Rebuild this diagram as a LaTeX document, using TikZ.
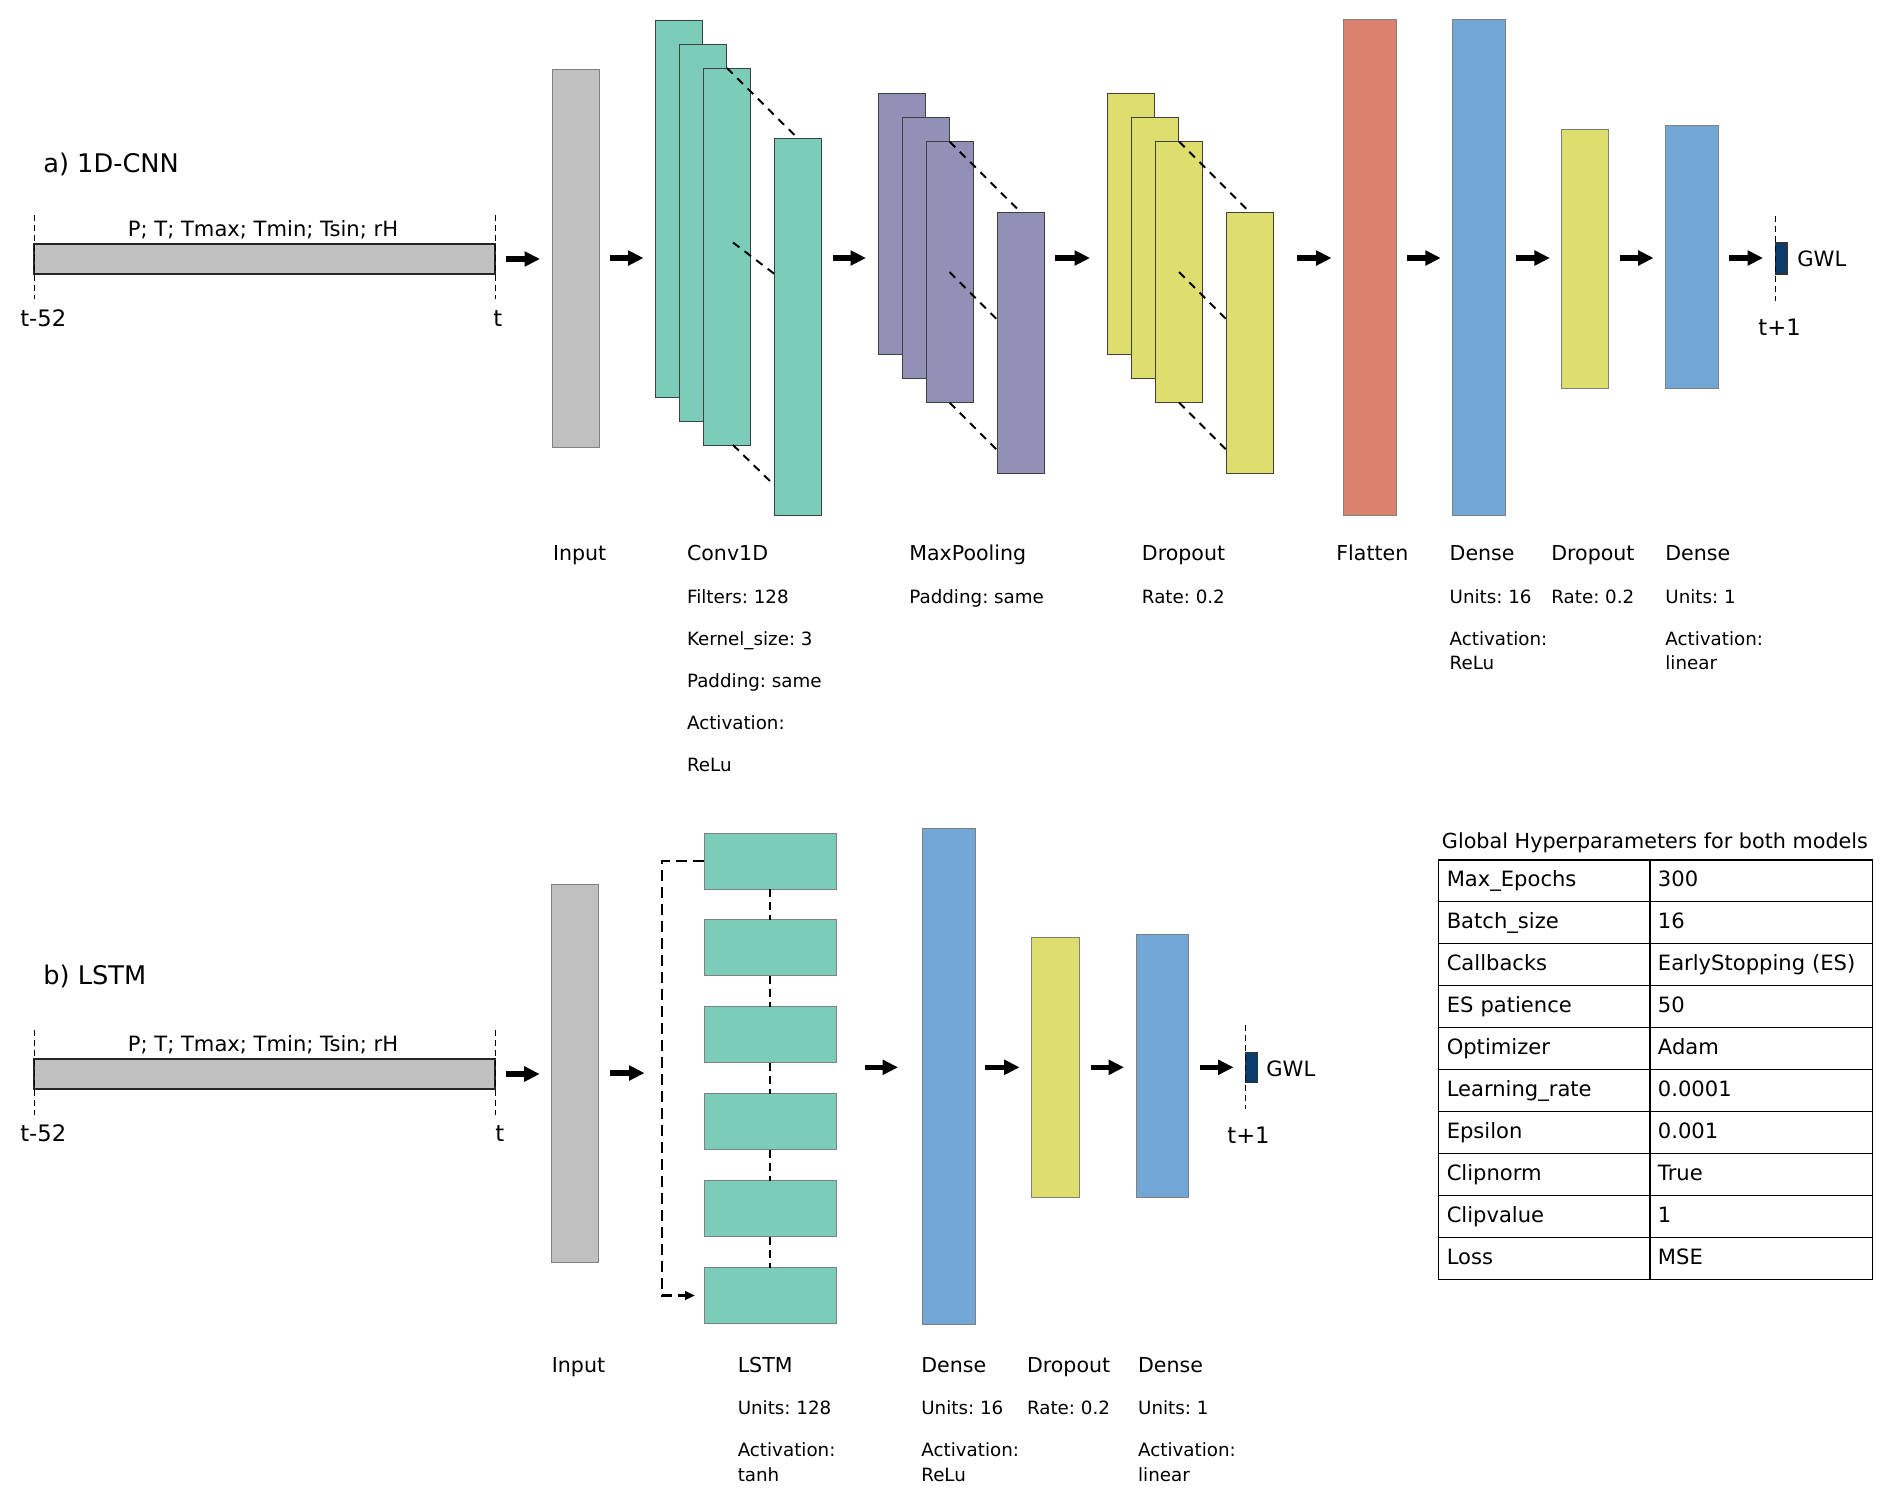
\documentclass[tikz,border=0pt]{standalone}
\usepackage{fontspec}
\setmainfont{DejaVu Sans}
\usepackage{tikz}
\usetikzlibrary{calc,arrows.meta}
\definecolor{inGray}{RGB}{192,192,192}
\definecolor{convTeal}{RGB}{123,205,186}
\definecolor{poolPurple}{RGB}{145,145,183}
\definecolor{dropYellow}{RGB}{222,222,110}
\definecolor{flatRed}{RGB}{218,130,110}
\definecolor{denseBlue}{RGB}{114,166,213}
\definecolor{outNavy}{RGB}{10,60,110}
\frenchspacing

\begin{document}
\begin{tikzpicture}[x=0.02cm,y=-0.02cm,
    lyr/.style={draw=black!50,line width=0.5pt,inner sep=0pt,outer sep=0pt,minimum width=0.94cm},
    stack/.style={lyr,draw=black!75},
    seq/.style={draw=black!85,line width=1.1pt,fill=inGray,inner sep=0pt,outer sep=0pt,
      minimum width=9.22cm,minimum height=0.6cm},
    flow/.style={line width=0.11cm,-{Triangle[length=0.31cm,width=0.29cm]},
      shorten <=0.22cm,shorten >=0.24cm},
    proj/.style={dash pattern=on 0.16cm off 0.13cm,line width=1.1pt},
    tick/.style={dash pattern=on 0.12cm off 0.08cm,line width=0.5pt},
    link/.style={dash pattern=on 0.16cm off 0.1cm,line width=0.8pt},
    recur/.style={dash pattern=on 0.22cm off 0.12cm,line width=1.4pt},
    head/.style={anchor=base west,inner sep=0pt,font=\fontsize{11.7}{14}\selectfont},
    info/.style={anchor=base west,inner sep=0pt,font=\fontsize{10.4}{12}\selectfont},
    big/.style={anchor=base west,inner sep=0pt,font=\fontsize{12}{14}\selectfont},
    stamp/.style={anchor=base west,inner sep=0pt,font=\fontsize{12.9}{15}\selectfont},
    panel/.style={anchor=base west,inner sep=0pt,font=\fontsize{14.6}{17}\selectfont},
    cellk/.style={draw,line width=0.85pt,anchor=north west,inner xsep=0.164cm,inner ysep=0pt,
      minimum height=0.839cm,text width=3.89cm,align=left,text height=0.85em,text depth=0.14em,
      font=\fontsize{12}{14}\selectfont},
    cellv/.style={cellk,text width=4.13cm}]
  \useasboundingbox (0,0) rectangle (1892,1502);

  % a) 1D-CNN
  \node[panel] (capA) at (43,172) {a) 1D-CNN};
  \node[seq] (barA) at (264.5,259) {};
  \draw[tick] ($(barA.west)+(0,-44)$) -- ($(barA.west)+(0,40)$);
  \draw[tick] ($(barA.east)+(0,-44)$) -- ($(barA.east)+(0,40)$);
  \node[big,anchor=base] (varsA) at (263,236) {P; T; Tmax; Tmin; Tsin; rH};
  \node[stamp] (t0A) at (20,326) {t-52};
  \node[stamp] (t1A) at (493,326) {t};

  \node[lyr,fill=inGray,minimum height=7.56cm] (inA) at (575.5,258) {};
  \foreach \i in {1,2,3}
    \node[stack,fill=convTeal,minimum height=7.54cm] (cv\i) at ({655+24*\i},{184.5+24*\i}) {};
  \node[stack,fill=convTeal,minimum height=7.54cm] (cvOut) at (798,327) {};
  \draw[proj] (cv3.north) -- (cvOut.north);
  \draw[proj] ($(cv3.center)+(6,-14)$) -- ($(cvOut.west)+(0,-53)$);
  \draw[proj] ($(cv3.south)+(6,0)$) -- ($(cvOut.south west)+(0,-30)$);

  \foreach \i in {1,2,3}
    \node[stack,fill=poolPurple,minimum height=5.22cm] (pl\i) at ({877.5+24*\i},{200+24*\i}) {};
  \node[stack,fill=poolPurple,minimum height=5.22cm] (plOut) at (1020.5,342.5) {};
  \draw[proj] (pl3.north) -- (plOut.north);
  \draw[proj] (pl3.center) -- ++(47.5,47.5);
  \draw[proj] (pl3.south) -- ++(47.5,47.5);

  \foreach \i in {1,2,3}
    \node[stack,fill=dropYellow,minimum height=5.22cm] (dr\i) at ({1107+24*\i},{200+24*\i}) {};
  \node[stack,fill=dropYellow,minimum height=5.22cm] (drOut) at (1249.5,342.5) {};
  \draw[proj] (dr3.north) -- (drOut.north);
  \draw[proj] (dr3.center) -- ++(47,47);
  \draw[proj] (dr3.south) -- ++(47,47);

  \node[lyr,fill=flatRed,minimum width=1.05cm,minimum height=9.91cm] (flA) at (1369.75,267.3) {};
  \node[lyr,fill=denseBlue,minimum width=1.05cm,minimum height=9.91cm] (de1A) at (1479,267.3) {};
  \node[lyr,fill=dropYellow,minimum height=5.19cm] (dr2A) at (1585.4,258.9) {};
  \node[lyr,fill=denseBlue,minimum width=1.05cm,minimum height=5.26cm] (de2A) at (1691.8,257.2) {};
  \node[draw=black!80,line width=0.6pt,fill=outNavy,inner sep=0pt,outer sep=0pt,
    minimum width=0.24cm,minimum height=0.62cm] (gwlA) at (1781,258.5) {};
  \draw[tick] ($(gwlA.west)+(0,-42.5)$) -- ($(gwlA.west)+(0,42.5)$);
  \node[big] (gA) at (1797,266) {GWL};
  \node[stamp] (t2A) at (1758,335) {t+1};

  \draw[flow] (barA.east) -- (barA.east -| inA.west);
  \draw[flow] (inA.east) -- (inA.east -| cv1.west);
  \draw[flow] (inA -| cvOut.east) -- (inA -| pl1.west);
  \draw[flow,shorten >=0.35cm] (inA -| plOut.east) -- (inA -| dr1.west);
  \draw[flow,shorten <=0.48cm] (inA -| drOut.east) -- (inA -| flA.west);
  \draw[flow] (inA -| flA.east) -- (inA -| de1A.west);
  \draw[flow] (inA -| de1A.east) -- (inA -| dr2A.west);
  \draw[flow] (inA -| dr2A.east) -- (inA -| de2A.west);
  \draw[flow] (inA -| de2A.east) -- (inA -| gwlA.west);

  \node[head] (hInA) at (552.7,560) {Input};
  \node[head] (hCv) at (686.7,560) {Conv1D};
  \node[info] (iCv1) at (686.7,603) {Filters: 128};
  \node[info] (iCv2) at (686.7,645) {Kernel\_size: 3};
  \node[info] (iCv3) at (686.7,687) {Padding: same};
  \node[info] (iCv4) at (686.7,729) {Activation:};
  \node[info] (iCv5) at (686.7,771) {ReLu};
  \node[head] (hPl) at (909,560) {MaxPooling};
  \node[info] (iPl) at (909,603) {Padding: same};
  \node[head] (hDr) at (1141.6,560) {Dropout};
  \node[info] (iDr) at (1141.6,603) {Rate: 0.2};
  \node[head] (hFl) at (1336,560) {Flatten};
  \node[head] (hDe1A) at (1449.3,560) {Dense};
  \node[info] (iDe1A) at (1449.3,603) {Units: 16};
  \node[info] (jDe1A) at (1449.3,645) {Activation:};
  \node[info] (kDe1A) at (1449.3,669.5) {ReLu};
  \node[head] (hDr2A) at (1551,560) {Dropout};
  \node[info] (iDr2A) at (1551,603) {Rate: 0.2};
  \node[head] (hDe2A) at (1665,560) {Dense};
  \node[info] (iDe2A) at (1665,603) {Units: 1};
  \node[info] (jDe2A) at (1665,645) {Activation:};
  \node[info] (kDe2A) at (1665,669.5) {linear};

  % b) LSTM
  \node[panel] (capB) at (43,984) {b) LSTM};
  \node[seq] (barB) at (264.6,1074) {};
  \draw[tick] ($(barB.west)+(0,-44)$) -- ($(barB.west)+(0,41)$);
  \draw[tick] ($(barB.east)+(0,-44)$) -- ($(barB.east)+(0,41)$);
  \node[big,anchor=base] (varsB) at (263,1051) {P; T; Tmax; Tmin; Tsin; rH};
  \node[stamp] (t0B) at (20,1141) {t-52};
  \node[stamp] (t1B) at (495,1141) {t};

  \node[lyr,fill=inGray,minimum height=7.56cm] (inB) at (575.2,1073) {};
  \foreach \i in {1,...,6}
    \node[lyr,fill=convTeal,minimum width=2.64cm,minimum height=1.12cm] (ls\i) at (770,{861+86.9*(\i-1)}) {};
  \foreach \i/\j in {1/2,2/3,3/4,4/5,5/6}
    \draw[link] (ls\i.south) -- (ls\j.north);
  \coordinate (loopL) at ($(ls1.west)+(-42,0)$);
  \draw[recur,-{Triangle[length=0.2cm,width=0.17cm]},shorten >=0.18cm] (ls1.west) -- (loopL) |- (ls6.west);

  \node[lyr,fill=denseBlue,minimum width=1.06cm,minimum height=9.93cm] (de1B) at (949,1076.3) {};
  \node[lyr,fill=dropYellow,minimum width=0.96cm,minimum height=5.19cm] (dr1B) at (1055.6,1067.3) {};
  \node[lyr,fill=denseBlue,minimum width=1.05cm,minimum height=5.26cm] (de2B) at (1162.3,1065.5) {};
  \node[draw=black!80,line width=0.6pt,fill=outNavy,inner sep=0pt,outer sep=0pt,
    minimum width=0.24cm,minimum height=0.61cm] (gwlB) at (1251.5,1067.3) {};
  \draw[tick] ($(gwlB.west)+(0,-42)$) -- ($(gwlB.west)+(0,42)$);
  \node[big] (gB) at (1266,1076) {GWL};
  \node[stamp] (t2B) at (1227,1143) {t+1};

  \draw[flow] (barB.east) -- (barB.east -| inB.west);
  \draw[flow,shorten >=0.35cm] (inB.east) -- (inB.east -| loopL);
  \draw[flow,shorten <=0.58cm,shorten >=0.49cm] (gwlB -| ls1.east) -- (gwlB -| de1B.west);
  \draw[flow,shorten <=0.19cm] (gwlB -| de1B.east) -- (gwlB -| dr1B.west);
  \draw[flow] (gwlB -| dr1B.east) -- (gwlB -| de2B.west);
  \draw[flow] (gwlB -| de2B.east) -- (gwlB.west);

  \node[head] (hInB) at (551.5,1372) {Input};
  \node[head] (hLs) at (737.4,1372) {LSTM};
  \node[info] (iLs) at (737.4,1414) {Units: 128};
  \node[info] (jLs) at (737.4,1456) {Activation:};
  \node[info] (kLs) at (737.4,1481) {tanh};
  \node[head] (hDe1B) at (921,1372) {Dense};
  \node[info] (iDe1B) at (921,1414) {Units: 16};
  \node[info] (jDe1B) at (921,1456) {Activation:};
  \node[info] (kDe1B) at (921,1481) {ReLu};
  \node[head] (hDr1B) at (1026.7,1372) {Dropout};
  \node[info] (iDr1B) at (1026.7,1414) {Rate: 0.2};
  \node[head] (hDe2B) at (1137.8,1372) {Dense};
  \node[info] (iDe2B) at (1137.8,1414) {Units: 1};
  \node[info] (jDe2B) at (1137.8,1456) {Activation:};
  \node[info] (kDe2B) at (1137.8,1481) {linear};

  % hyperparameter table
  \node[big,font=\fontsize{11.8}{14}\selectfont] (tabTitle) at (1441.6,848) {Global Hyperparameters for both models};
  \foreach \k/\v [count=\n from 0] in {Max\_Epochs/300,Batch\_size/16,Callbacks/EarlyStopping (ES),
      ES patience/50,Optimizer/Adam,Learning\_rate/0.0001,Epsilon/0.001,Clipnorm/True,
      Clipvalue/1,Loss/MSE} {
    \node[cellk] (hk\n) at (1437.8,{859+41.96*\n}) {\k};
    \node[cellv] (hv\n) at (1649,{859+41.96*\n}) {\v};
  }
\end{tikzpicture}
\end{document}
